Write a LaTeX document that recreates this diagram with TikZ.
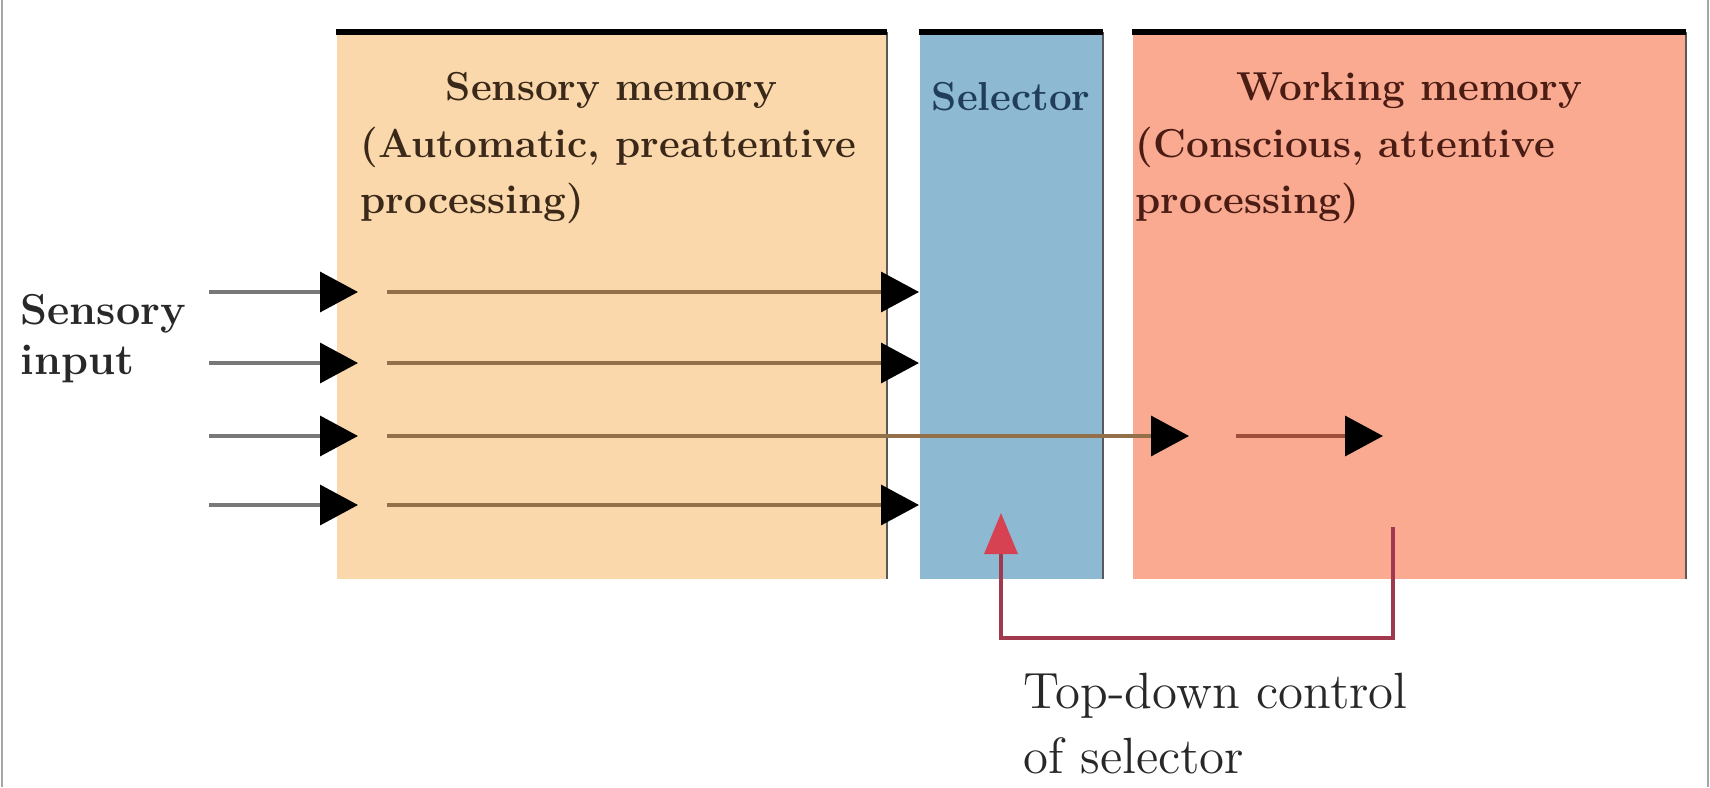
\documentclass[tikz,border=0pt]{standalone}
\usepackage{xcolor}
\usetikzlibrary{arrows.meta,positioning,calc}
\definecolor{sensfill}{RGB}{250,216,172}
\definecolor{selfill}{RGB}{141,185,211}
\definecolor{workfill}{RGB}{249,170,145}
\definecolor{inline}{RGB}{120,120,120}
\definecolor{sensline}{RGB}{148,112,74}
\definecolor{workline}{RGB}{160,78,60}
\definecolor{ctrlred}{RGB}{160,56,78}
\definecolor{ctrltip}{RGB}{214,66,82}
\definecolor{senstext}{RGB}{58,40,24}
\definecolor{seltext}{RGB}{32,62,92}
\definecolor{worktext}{RGB}{74,28,20}
\definecolor{plaintext}{RGB}{40,40,40}

\begin{document}
\begin{tikzpicture}[x=0.1mm, y=-0.1mm,
  membox/.style={rectangle, anchor=north west, inner sep=0pt, minimum height=54.6mm},
  topbar/.style={line width=0.6mm, black},
  rimline/.style={line width=0.2mm, draw=black!65},
  heading/.style={font=\fontsize{11.5}{16.2}\selectfont\bfseries, inner sep=0pt},
  flow/.style={-{Triangle[length=3.8mm, width=4mm, black]}, line width=0.35mm},
  ctrl/.style={-{Triangle[length=4.1mm, width=3.3mm, ctrltip]}, line width=0.35mm, draw=ctrlred}
]
  \useasboundingbox (0,0) rectangle (1710,787);
  % frame
  \draw[gray!70, line width=0.2mm] (2,0) -- (2,787);
  \draw[gray!70, line width=0.2mm] (1708,0) -- (1708,787);

  % Three stages
  \node[membox, fill=sensfill, minimum width=55mm] (sensory) at (336,32) {};
  \node[membox, fill=selfill, minimum width=18.3mm] (selector) at (919,32) {};
  \node[membox, fill=workfill, minimum width=55.3mm] (working) at (1132,32) {};

  \foreach \stage in {sensory,selector,working} {
    \draw[rimline] (\stage.north east) -- (\stage.south east);
    \draw[topbar] (\stage.north west) -- (\stage.north east);
  }

  % Labels
  \node[heading, text=senstext, anchor=base] (senstitle) at (sensory.north |- 0,100) {Sensory memory};
  \node[heading, text=senstext, anchor=north west, align=left] (sensnote) at (360,126)
    {(Automatic, preattentive\\processing)};
  \node[heading, text=seltext, anchor=base] (seltitle) at (selector.north |- 0,110) {Selector};
  \node[heading, text=worktext, anchor=base] (worktitle) at (working.north |- 0,100) {Working memory};
  \node[heading, text=worktext, anchor=north west, align=left] (worknote) at (1135,126)
    {(Conscious, attentive\\processing)};
  \node[font=\fontsize{12.3}{14.2}\selectfont\bfseries, text=plaintext, inner sep=0pt,
    anchor=north west, align=left] (input) at (20,294) {Sensory\\input};

  % Sensory input rows
  \foreach \y [count=\i] in {292,363,436,505} {
    \coordinate (in\i) at (209,\y);
    \coordinate (reg\i) at (387,\y);
    \draw[flow, draw=inline] (in\i) -- ([xshift=2.2mm]sensory.west |- in\i);
  }
  \foreach \i in {1,2,4}
    \draw[flow, draw=sensline] (reg\i) -- (selector.west |- reg\i);

  % Selected item passes to working memory
  \coordinate (wm1) at (1189,436);
  \coordinate (wm2) at (1236,436);
  \coordinate (wm3) at (1383,436);
  \draw[flow, draw=sensline] (reg3) -- (wm1);
  \draw[flow, draw=workline] (wm2) -- (wm3);

  % Top-down control
  \coordinate (ctrl) at (1393,527);
  \coordinate (seltip) at (1001,513);
  \draw[ctrl] (ctrl) -- ++(0,111) -| (seltip);
  \node[font=\fontsize{14.5}{18.5}\selectfont, text=plaintext, inner sep=0pt,
    anchor=north west, align=left] (ctrllabel) at (1023,672) {Top-down control\\of selector};
\end{tikzpicture}
\end{document}
